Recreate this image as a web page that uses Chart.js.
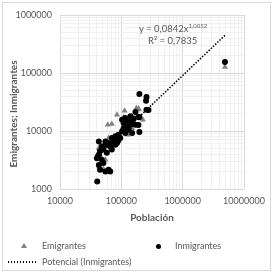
<!DOCTYPE html>
<html>
<head>
<meta charset="utf-8">
<script src="https://cdn.jsdelivr.net/npm/chart.js@4"></script>
<style>
  body { margin: 0; background: #fff; }
  #wrap { position: relative; width: 272px; height: 272px; font-family: Lato, sans-serif; color: #595959; }
  #wrap canvas { position: absolute; left: 0; top: 0; }
  .txt { position: absolute; font-size: 9px; line-height: 12px; white-space: nowrap; }
  #frame { position: absolute; left: 2px; top: 2px; width: 269px; height: 269px; box-sizing: border-box; border: 1px solid #d9d9d9; }
  #ytitle { position: absolute; left: -57px; top: 108px; width: 140px; height: 12px; line-height: 12px; text-align: center;
            font-size: 10px; font-weight: bold; transform: rotate(-90deg); }
  #tri { position: absolute; left: 21px; top: 243px; width: 0; height: 0; border-left: 3px solid transparent;
         border-right: 3px solid transparent; border-bottom: 5px solid #808080; }
  #dot { position: absolute; left: 155.5px; top: 243.5px; width: 5px; height: 5px; border-radius: 50%; background: #000; }
  #dash { position: absolute; left: 8px; top: 261px; width: 30px; height: 1.5px;
          background: repeating-linear-gradient(90deg, #000 0 1.5px, transparent 1.5px 3px); }
  sup { font-size: 6px; vertical-align: 4px; }
</style>
</head>
<body>
<div id="wrap">
  <canvas id="grafico" width="272" height="272"></canvas>
  <div id="frame"></div>
  <div id="ytitle">Emigrantes; Inmigrantes</div>
  <div class="txt" style="left:139px;top:20px;font-size:9.5px">y = 0,0842x<sup>1,0052</sup></div>
  <div class="txt" style="left:148px;top:35px;font-size:9.5px">R² = 0,7835</div>
  <div id="tri"></div>
  <div class="txt" style="left:42px;top:240px">Emigrantes</div>
  <div id="dot"></div>
  <div class="txt" style="left:175px;top:240px">Inmigrantes</div>
  <div id="dash"></div>
  <div class="txt" style="left:42px;top:256px">Potencial (Inmigrantes)</div>
</div>
<script>
const ticksX = [10000, 100000, 1000000, 10000000]
const ticksY = [1000, 10000, 100000, 1000000]

// Inmigrantes (poblacion, inmigrantes)
const inmigX = [197000, 253000, 257000, 170000, 141000, 159000, 132000, 119000, 109000, 150000,
  170000, 124000, 109000, 132000, 103000, 150000, 90000, 80000, 70000, 96000,
  75000, 62000, 85000, 55000, 66000, 70000, 51000, 58000, 45000, 43000,
  40000, 48000, 43000, 51000, 45000, 62000, 66000, 55000, 40500, 43000,
  55000, 103000, 192000, 116000, 80000, 48000, 90000, 116000, 141000, 41600,
  257000, 277000, 197000, 190000, 197000, 4890000]
const inmigY = [43400, 33300, 23300, 21200, 17900, 16300, 14700, 14700, 13700, 13700,
  12800, 12000, 11200, 10500, 9900, 9200, 8600, 8100, 7600, 7600,
  6600, 6200, 6200, 5800, 5400, 4800, 4800, 4200, 4500, 3900,
  3400, 3200, 2600, 2800, 2150, 2150, 2000, 2000, 1350, 6600,
  6600, 15700, 17200, 9200, 5800, 5400, 7100, 16700, 12800, 3660,
  38500, 23000, 17400, 12700, 9600, 155000]

// Emigrantes
const emigX = [85000, 113000, 192000, 60000, 70000, 129000, 129000, 109000, 90000, 43000,
  45000, 43600, 51000, 181000, 224000, 150000, 62000, 55000, 176000, 190000, 4890000]
const emigY = [19100, 22400, 24300, 12800, 13200, 11600, 8600, 17200, 6600, 5100,
  3900, 2450, 2200, 19100, 15700, 11200, 7600, 3200, 25000, 23500, 127000]

// Potencial (Inmigrantes): y = 0,0842x^1,0052, extremos del rango
const trendX = [38000, 4890000]
const trendY = [3380, 446000]

const toPoints = (xs, ys) => xs.map((x, i) => ({ x: x, y: ys[i] }))

function keepWhole(scale) {
  scale.ticks = scale.ticks.filter(t => {
    const m = t.value / Math.pow(10, Math.floor(Math.log10(t.value) + 1e-9))
    return Math.abs(m - Math.round(m)) < 1e-6
  })
}

const gridColor = list => ctx => (ctx.tick && list.includes(ctx.tick.value)) ? '#d9d9d9' : '#f0f0f0'
const tickFont = { family: 'Lato', size: 9 }

const config = {
  type: 'scatter',
  data: {
    datasets: [
      {
        label: 'Potencial (Inmigrantes)',
        data: toPoints(trendX, trendY),
        showLine: true,
        borderColor: '#000',
        borderWidth: 1.5,
        borderDash: [1.5, 1.5],
        pointRadius: 0,
        fill: false,
        order: 0,
      },
      {
        label: 'Inmigrantes',
        data: toPoints(inmigX, inmigY),
        backgroundColor: '#000',
        borderColor: '#000',
        borderWidth: 0,
        pointRadius: 3,
        order: 1,
      },
      {
        label: 'Emigrantes',
        data: toPoints(emigX, emigY),
        pointStyle: 'triangle',
        backgroundColor: '#808080',
        borderColor: '#808080',
        borderWidth: 0,
        pointRadius: 3.5,
        order: 2,
      },
    ],
  },
  options: {
    responsive: false,
    animation: false,
    devicePixelRatio: 1,
    layout: { padding: { top: 15, right: 28, bottom: 0, left: 0 } },
    plugins: { legend: { display: false }, tooltip: { enabled: false } },
    scales: {
      x: {
        type: 'logarithmic',
        min: 10000,
        max: 10000000,
        afterBuildTicks: keepWhole,
        afterFit: s => { s.height = 83 },
        border: { display: false },
        grid: { color: gridColor(ticksX), drawTicks: false },
        ticks: {
          autoSkip: false, maxRotation: 0, padding: 7, color: '#595959', font: tickFont,
          callback: v => ticksX.includes(v) ? String(v) : '',
        },
        title: {
          display: true, text: 'Población', color: '#595959',
          font: { family: 'Lato', size: 10, weight: 'bold' },
          padding: { top: 0, bottom: 48 },
        },
      },
      y: {
        type: 'logarithmic',
        min: 1000,
        max: 1000000,
        afterBuildTicks: keepWhole,
        afterFit: s => { s.width = 60 },
        border: { display: false },
        grid: { color: gridColor(ticksY), drawTicks: false },
        ticks: {
          autoSkip: false, padding: 8, color: '#595959', font: tickFont,
          callback: v => ticksY.includes(v) ? String(v) : '',
        },
      },
    },
  },
}

const grafico = new Chart(document.getElementById('grafico'), config)
</script>
</body>
</html>
